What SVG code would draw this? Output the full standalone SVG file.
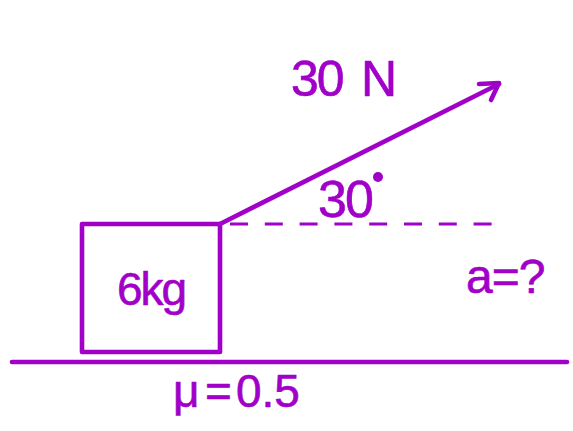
<svg xmlns="http://www.w3.org/2000/svg" width="573" height="431" viewBox="0 0 573 431">
<style>
.ln{stroke:#a000c8;stroke-width:4.6;fill:none;stroke-linecap:round;stroke-linejoin:round}
.t{fill:#a000c8;stroke:#a000c8;stroke-width:0.6;stroke-linejoin:round;font-family:"Liberation Sans",Arial,sans-serif}
</style>
<rect width="573" height="431" fill="#fff"/>
<g id="ground"><line class="ln" x1="12" y1="362" x2="567" y2="362" stroke-width="5"/></g>
<g id="block">
<rect class="ln" x="82" y="224" width="138" height="128"/>
<text class="t" x="117" y="305" font-size="46" letter-spacing="-2">6kg</text>
</g>
<g id="connectors">
<line class="ln" x1="220" y1="224" x2="499" y2="84"/>
<polyline class="ln" points="479,84 499,83 491,100"/>
<line x1="230" y1="224" x2="492" y2="224" stroke="#a000c8" stroke-width="3" stroke-dasharray="18 16.8"/>
</g>
<g id="force-label"><text class="t" x="291" y="96" font-size="50" letter-spacing="-2">30<tspan x="361">N</tspan></text></g>
<g id="angle-label">
<text class="t" x="318" y="217" font-size="52" letter-spacing="-2">30</text>
<circle cx="378" cy="177" r="5" fill="#a000c8"/>
</g>
<g id="accel-label"><text class="t" x="466" y="293" font-size="48" letter-spacing="-1">a=?</text></g>
<g id="friction-label"><text class="t" x="173" y="407" font-size="46">μ<tspan x="205">=</tspan><tspan x="236">0.5</tspan></text></g>
</svg>
